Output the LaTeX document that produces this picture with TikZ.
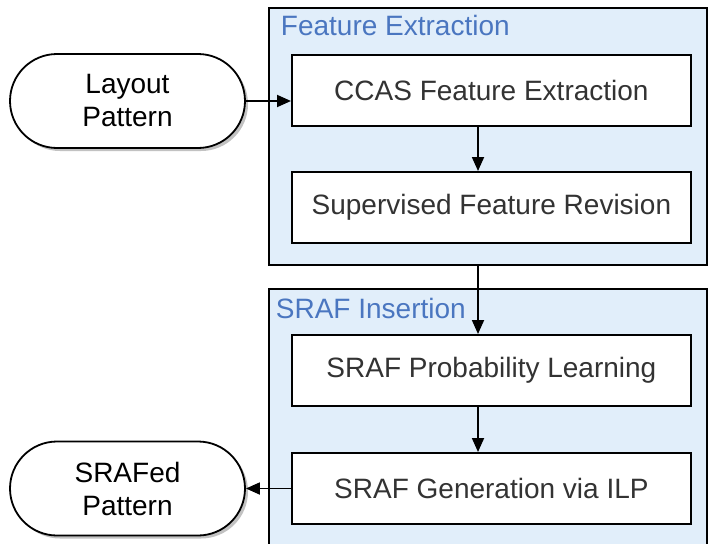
\documentclass[tikz,border=0pt]{standalone}
\usepackage{fontspec}
\setmainfont{Liberation Sans}
\usetikzlibrary{arrows.meta,shapes.misc,shadows}
\definecolor{panelfill}{RGB}{225,238,250}
\definecolor{titleblue}{RGB}{74,118,192}
\definecolor{boxtext}{RGB}{51,51,51}
\begin{document}
\begin{tikzpicture}[x=1pt,y=-1pt,line width=1.8pt,
  panel/.style={draw=black,fill=panelfill,rectangle,inner sep=0pt,anchor=north west,minimum width=438pt},
  paneltitle/.style={text=titleblue,inner sep=0pt,anchor=base west,font=\fontsize{28}{33}\selectfont},
  stepbox/.style={draw=black,fill=white,rectangle,inner sep=0pt,anchor=north west,minimum width=399pt,minimum height=71pt,text=boxtext,font=\fontsize{28}{33}\selectfont},
  term/.style={draw=black,fill=white,rounded rectangle,inner sep=0pt,minimum width=235pt,minimum height=94pt,align=center,font=\fontsize{28}{33}\selectfont,
    drop shadow={shadow xshift=3pt,shadow yshift=-3pt,opacity=0.4,fill=black!60}},
  arr/.style={-{Triangle[length=14pt,width=12pt]},line width=1.8pt}]
\useasboundingbox (0,0) rectangle (708,543);
% panels
\node[panel,minimum height=257pt] (fe) at (268,7) {};
\node[panel,minimum height=272pt] (si) at (268,288) {};
\node[paneltitle] (fet) at (280,36) {Feature Extraction};
\node[paneltitle] (sit) at (275,318) {SRAF Insertion};
% boxes
\node[stepbox] (b1) at (291,54) {CCAS Feature Extraction};
\node[stepbox] (b2) at (291,171) {Supervised Feature Revision};
\node[stepbox] (b3) at (291,334) {SRAF Probability Learning};
\node[stepbox] (b4) at (291,452) {SRAF Generation via ILP};
% terminals
\node[term] (t1) at (127.5,101) {Layout\\Pattern};
\node[term] (t2) at (127.5,488.5) {SRAFed\\Pattern};
% connectors
\coordinate (ax) at (478,0);
\draw[arr] (t1.east) -- (b1.west |- t1.east);
\draw[arr] (b1.south -| ax) -- (b2.north -| ax);
\draw[arr] (fe.south -| ax) -- (b3.north -| ax);
\draw[arr] (b3.south -| ax) -- (b4.north -| ax);
\draw[arr] (b4.west |- t2.east) -- (t2.east);
\end{tikzpicture}
\end{document}
